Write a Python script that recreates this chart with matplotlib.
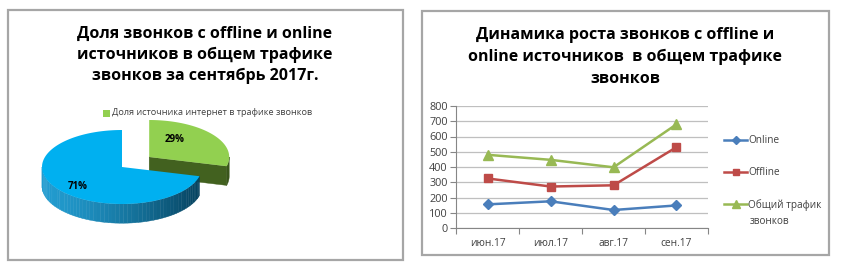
import numpy as np
import matplotlib
matplotlib.use('Agg')
import matplotlib.pyplot as plt
from matplotlib.patches import Polygon, Rectangle

plt.rcParams['font.family'] = ['Open Sans', 'DejaVu Sans']

# pie data (share of calls, September 2017)
pie_labels = ['Доля источника интернет в трафике звонков', 'Доля offline']
pie_values = [29, 71]

# line data
months = ['июн.17', 'июл.17', 'авг.17', 'сен.17']
online = [155, 175, 118, 148]
offline = [325, 272, 280, 530]
total = [480, 447, 398, 680]

W, H = 841, 268
fig = plt.figure(figsize=(W / 100, H / 100), dpi=100)

def fx(px):
    return px / W

def fy(py):
    return 1 - py / H

# panel frames
for x0, y0, x1, y1 in [(8, 10, 403, 260), (422, 11, 829, 255)]:
    fig.patches.append(Rectangle((fx(x0), fy(y1)), fx(x1 - x0), (y1 - y0) / H,
                                 transform=fig.transFigure, fill=False,
                                 edgecolor='#a6a6a6', lw=1.6))

# ---------- left: 3D pie ----------
fig.text(fx(205), fy(55), 'Доля звонков с offline и online\nисточников в общем трафике\nзвонков за сентябрь 2017г.',
         ha='center', va='center', fontsize=11.5, fontweight='bold', linespacing=1.42)

fig.patches.append(Rectangle((fx(103), fy(117)), fx(7), 7 / H, transform=fig.transFigure,
                             facecolor='#92d050', edgecolor='none'))
fig.text(fx(112), fy(113), pie_labels[0], ha='left', va='center', fontsize=6.6, color='#404040')

ax_p = fig.add_axes([fx(30), fy(235), fx(210), 120 / H])
ax_p.set_xlim(-92 / 80, 118 / 80)
ax_p.set_ylim(-68 / 80, 52 / 80)
ax_p.axis('off')

ry = 0.4625
depth = 0.24
off = np.array([0.34, 0.125])

def pt(c, a, dz=0.0):
    return (c[0] + np.cos(a), c[1] + ry * np.sin(a) - dz)

start = np.pi / 2
green_span = 2 * np.pi * pie_values[0] / sum(pie_values)
g_a0, g_a1 = start - green_span, start           # green: clockwise from top
b_a0, b_a1 = start, start + 2 * np.pi - green_span  # blue: rest

c_b = np.array([0.0, 0.0])
c_g = off

# green (exploded) slice: cut face, wall, top
gside = '#42611f'
face = [tuple(c_g), pt(c_g, g_a0), pt(c_g, g_a0, depth), (c_g[0], c_g[1] - depth)]
ax_p.add_patch(Polygon(face, closed=True, facecolor=gside, edgecolor=gside, lw=0.3))
aa = np.linspace(g_a0, 0, 20)
ax_p.add_patch(Polygon([pt(c_g, a) for a in aa] + [pt(c_g, a, depth) for a in aa[::-1]],
                       closed=True, facecolor='#3a561b', edgecolor='#3a561b', lw=0.3))
aa = np.linspace(g_a0, g_a1, 100)
ax_p.add_patch(Polygon([tuple(c_g)] + [pt(c_g, a) for a in aa], closed=True,
                       facecolor='#92d050', edgecolor='none'))

# blue front wall with gradient
lo = max(b_a0, np.pi)
hi = b_a1
n = 60
edges = np.linspace(lo, hi, n + 1)
light = np.array([0x22, 0x9c, 0xd0]) / 255
dark = np.array([0x05, 0x40, 0x5c]) / 255
for i in range(n):
    a0, a1 = edges[i], edges[i + 1]
    t = ((np.cos((a0 + a1) / 2) + 1) / 2) ** 1.4
    col = light * (1 - t) + dark * t
    aa = np.linspace(a0, a1, 4)
    top = [pt(c_b, a) for a in aa]
    bot = [pt(c_b, a, depth) for a in aa[::-1]]
    ax_p.add_patch(Polygon(top + bot, closed=True, facecolor=col, edgecolor=col, lw=0.3))

aa = np.linspace(b_a0, b_a1, 200)
ax_p.add_patch(Polygon([tuple(c_b)] + [pt(c_b, a) for a in aa], closed=True,
                       facecolor='#00b0f0', edgecolor='none'))

gm = (g_a0 + g_a1) / 2
bm = (b_a0 + b_a1) / 2
ax_p.text(c_g[0] + 0.42 * np.cos(gm) - 0.02, c_g[1] + 0.42 * ry * np.sin(gm) + 0.1,
          f'{pie_values[0]}%', ha='center', va='center', fontsize=7, fontweight='bold')
ax_p.text(0.7 * np.cos(bm), 0.7 * ry * np.sin(bm) - 0.05, f'{pie_values[1]}%',
          ha='center', va='center', fontsize=7, fontweight='bold')

# ---------- right: lines ----------
fig.text(fx(625), fy(57), 'Динамика роста звонков с offline и\nonline источников  в общем трафике\nзвонков',
         ha='center', va='center', fontsize=11.5, fontweight='bold', linespacing=1.45)

ax = fig.add_axes([fx(456), fy(228), fx(252), 122 / H])
x = np.arange(len(months))
ax.plot(x, online, color='#4a7ebb', lw=1.8, marker='D', ms=5, label='Online')
ax.plot(x, offline, color='#be4b48', lw=1.8, marker='s', ms=6, label='Offline')
ax.plot(x, total, color='#98b954', lw=1.8, marker='^', ms=7, label='Общий трафик')
ax.set_xlim(-0.5, 3.5)
ax.set_ylim(0, 800)
ax.set_yticks(range(0, 801, 100))
ax.yaxis.grid(True, color='#bfbfbf', lw=0.9)
ax.set_axisbelow(True)
ax.set_xticks(np.arange(-0.5, 3.6, 1))
ax.set_xticklabels([])
ax.set_xticks(x, minor=True)
ax.set_xticklabels(months, minor=True)
ax.tick_params(axis='x', which='major', length=4, color='#868686', direction='out')
ax.tick_params(axis='x', which='minor', length=0, pad=7, labelsize=7.3, labelcolor='#404040')
ax.tick_params(axis='y', length=4, color='#868686', labelsize=7.8, labelcolor='#404040', pad=2)
for s in ['top', 'right']:
    ax.spines[s].set_visible(False)
ax.spines['left'].set_color('#868686')
ax.spines['bottom'].set_color('#868686')

leg = ax.legend(loc='upper left', bbox_to_anchor=(fx(724 - 456) / fx(252), 1 - (135 - 106) / 122),
                frameon=False, fontsize=7.2, handlelength=2.3, handletextpad=0.15,
                labelspacing=2.1, labelcolor='#404040', borderaxespad=0, borderpad=0,
                markerscale=0.75)
fig.text(fx(750), fy(221), 'звонков', ha='left', va='center', fontsize=7.2, color='#404040')

fig.savefig('out.png', dpi=100)
